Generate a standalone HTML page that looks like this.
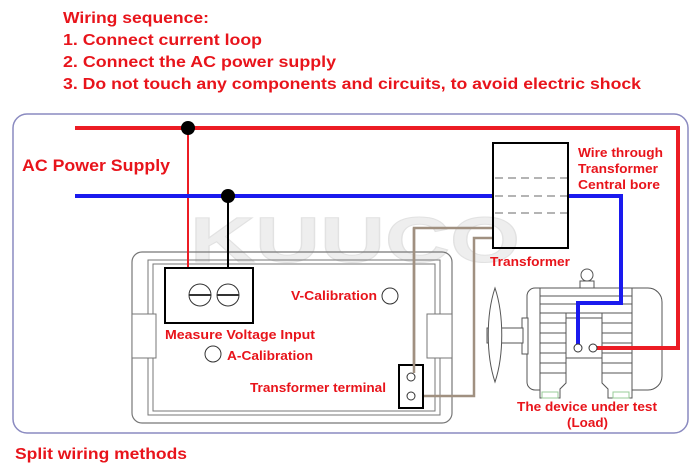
<!DOCTYPE html>
<html><head><meta charset="utf-8"><style>
html,body{margin:0;padding:0;background:#fff;width:700px;height:465px;overflow:hidden}
svg{display:block}
text{font-family:"Liberation Sans",Arial,sans-serif;fill:#e8141b;font-weight:bold}
</style></head><body>
<svg width="700" height="465" viewBox="0 0 700 465" xmlns="http://www.w3.org/2000/svg">
<text x="63" y="23" font-size="16" textLength="146" lengthAdjust="spacingAndGlyphs">Wiring sequence:</text>
<text x="63" y="45" font-size="16" textLength="199" lengthAdjust="spacingAndGlyphs">1. Connect current loop</text>
<text x="63" y="67" font-size="16" textLength="273" lengthAdjust="spacingAndGlyphs">2. Connect the AC power supply</text>
<text x="63" y="89" font-size="16" textLength="578" lengthAdjust="spacingAndGlyphs">3. Do not touch any components and circuits, to avoid electric shock</text>
<rect x="13" y="114" width="675" height="319" rx="14" fill="none" stroke="#8a8ac0" stroke-width="1.5"/>
<text x="22" y="171" font-size="17" textLength="148" lengthAdjust="spacingAndGlyphs">AC Power Supply</text>
<!-- watermark -->
<text x="190" y="262" font-size="64" style="fill:#eeeeee;stroke:#e2e2e2;stroke-width:1" textLength="330" lengthAdjust="spacingAndGlyphs">KUUCO</text>
<!-- meter -->
<rect x="132" y="252" width="320" height="171" rx="10" fill="none" stroke="#777" stroke-width="1.2"/>
<rect x="148" y="260" width="292" height="155" fill="none" stroke="#777" stroke-width="1"/>
<rect x="153" y="264" width="282" height="147" fill="none" stroke="#777" stroke-width="1"/>
<rect x="132" y="314" width="24" height="44" fill="#fff" stroke="#777"/>
<rect x="427" y="314" width="25" height="44" fill="#fff" stroke="#777"/>
<!-- wires -->
<polyline points="75,128 678,128 678,348 593,348" fill="none" stroke="#ec1c24" stroke-width="4"/>
<line x1="188" y1="128" x2="188" y2="268" stroke="#ec1c24" stroke-width="2"/>
<circle cx="188" cy="128" r="7" fill="#000"/>
<line x1="75" y1="196" x2="493" y2="196" stroke="#1a1aee" stroke-width="4"/>
<polyline points="568,196 621,196 621,303 578,303 578,347" fill="none" stroke="#1a1aee" stroke-width="4"/>
<line x1="228" y1="196" x2="228" y2="268" stroke="#000" stroke-width="2"/>
<circle cx="228" cy="196" r="7" fill="#000"/>
<polyline points="493,228 414,228 414,376" fill="none" stroke="#a09080" stroke-width="2.5"/>
<polyline points="493,238 474,238 474,396 417,396" fill="none" stroke="#a09080" stroke-width="2.5"/>
<!-- transformer -->
<rect x="493" y="143" width="75" height="105" fill="none" stroke="#000" stroke-width="2"/>
<g stroke="#888" stroke-width="1.2" stroke-dasharray="8,5">
<line x1="495" y1="178" x2="567" y2="178"/><line x1="495" y1="196" x2="567" y2="196"/><line x1="495" y1="213" x2="567" y2="213"/></g>
<text x="578" y="157" font-size="13" textLength="85" lengthAdjust="spacingAndGlyphs">Wire through</text>
<text x="578" y="173" font-size="13" textLength="80" lengthAdjust="spacingAndGlyphs">Transformer</text>
<text x="578" y="189" font-size="13" textLength="82" lengthAdjust="spacingAndGlyphs">Central bore</text>
<text x="490" y="266" font-size="13" textLength="80" lengthAdjust="spacingAndGlyphs">Transformer</text>
<!-- terminal box -->
<rect x="165" y="268" width="88" height="55" fill="#fff" stroke="#000" stroke-width="2"/>
<circle cx="200" cy="295" r="11" fill="none" stroke="#333"/><line x1="189" y1="295" x2="211" y2="295" stroke="#333" stroke-width="2"/>
<circle cx="228" cy="295" r="11" fill="none" stroke="#333"/><line x1="217" y1="295" x2="239" y2="295" stroke="#333" stroke-width="2"/>
<text x="165" y="339" font-size="13" textLength="150" lengthAdjust="spacingAndGlyphs">Measure Voltage Input</text>
<text x="291" y="300" font-size="13" textLength="86" lengthAdjust="spacingAndGlyphs">V-Calibration</text>
<circle cx="390" cy="296" r="8" fill="none" stroke="#333"/>
<circle cx="213" cy="354" r="8" fill="none" stroke="#333"/>
<text x="227" y="360" font-size="13" textLength="86" lengthAdjust="spacingAndGlyphs">A-Calibration</text>
<rect x="399" y="365" width="24" height="43" fill="#fff" stroke="#000" stroke-width="2"/>
<circle cx="411" cy="377" r="4" fill="#fff" stroke="#333"/><circle cx="411" cy="396" r="4" fill="#fff" stroke="#333"/>
<line x1="414" y1="228" x2="414" y2="373" stroke="#a09080" stroke-width="2.5"/>
<text x="250" y="392" font-size="13" textLength="136" lengthAdjust="spacingAndGlyphs">Transformer terminal</text>
<!-- motor -->
<g fill="#fff" stroke="#555" stroke-width="1">
<path d="M632,288 h16 a14,14 0 0 1 14,14 v74 a14,14 0 0 1 -14,14 h-16 z"/>
<path d="M540,288 h-5 a8,8 0 0 0 -8,8 v86 a8,8 0 0 0 8,8 h5 z"/>
<rect x="522" y="318" width="6" height="36"/>
<rect x="487" y="328" width="36" height="15"/>
<path d="M495,288 C486,315 486,355 495,382 C504,355 504,315 495,288 z"/>
<circle cx="587" cy="275" r="6"/><rect x="580" y="281" width="14" height="7"/>
<rect x="540" y="288" width="92" height="25"/>
<path d="M540,313 h26 v70 l-6,6 v9 h-20 z"/>
<path d="M632,313 h-30 v70 l6,6 v9 h24 z"/>
<rect x="566" y="318" width="36" height="40"/>
<rect x="542" y="392" width="16" height="6" stroke="#9c9"/><rect x="613" y="392" width="16" height="6" stroke="#9c9"/>
</g>
<g stroke="#555" stroke-width="1">
<line x1="540" y1="296" x2="632" y2="296"/><line x1="540" y1="304" x2="632" y2="304"/>
<line x1="540" y1="323" x2="566" y2="323"/><line x1="540" y1="333" x2="566" y2="333"/><line x1="540" y1="343" x2="566" y2="343"/><line x1="540" y1="353" x2="566" y2="353"/><line x1="540" y1="363" x2="566" y2="363"/><line x1="540" y1="373" x2="566" y2="373"/>
<line x1="602" y1="323" x2="632" y2="323"/><line x1="602" y1="333" x2="632" y2="333"/><line x1="602" y1="343" x2="632" y2="343"/><line x1="602" y1="353" x2="632" y2="353"/><line x1="602" y1="363" x2="632" y2="363"/><line x1="602" y1="373" x2="632" y2="373"/>
</g>
<polyline points="621,200 621,303 578,303 578,347" fill="none" stroke="#1a1aee" stroke-width="4"/>
<line x1="597" y1="348" x2="678" y2="348" stroke="#ec1c24" stroke-width="4"/>
<circle cx="578" cy="348" r="4" fill="#fff" stroke="#333"/>
<circle cx="593" cy="348" r="4" fill="#fff" stroke="#333"/>
<text x="517" y="411" font-size="13" textLength="140" lengthAdjust="spacingAndGlyphs">The device under test</text>
<text x="567" y="427" font-size="13" textLength="41" lengthAdjust="spacingAndGlyphs">(Load)</text>
<text x="15" y="459" font-size="16" textLength="172" lengthAdjust="spacingAndGlyphs">Split wiring methods</text>
</svg>
</body></html>
